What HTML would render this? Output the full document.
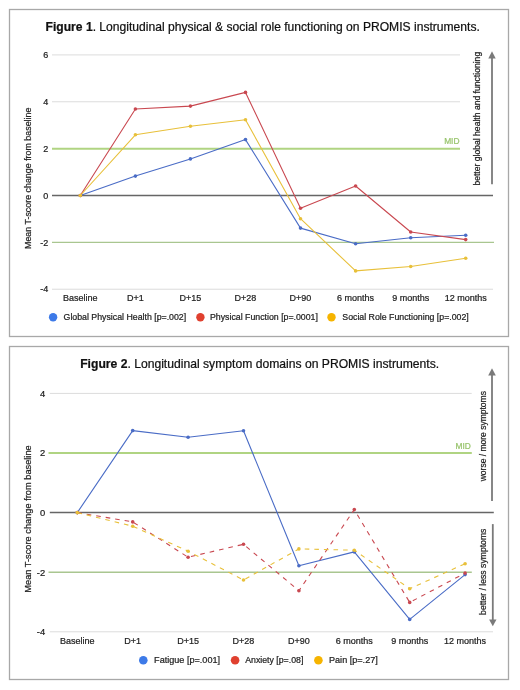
<!DOCTYPE html><html><head><meta charset="utf-8"><style>
html,body{margin:0;padding:0;background:#fff;width:520px;height:690px;overflow:hidden}
svg{display:block;will-change:transform}
text{font-family:"Liberation Sans", sans-serif}
</style></head><body>
<svg width="520" height="690" viewBox="0 0 520 690">
<rect x="9.5" y="9.5" width="499" height="327" fill="none" stroke="#a8a8a8" stroke-width="1.3"/>
<rect x="9.5" y="346.5" width="499" height="333" fill="none" stroke="#a8a8a8" stroke-width="1.3"/>
<text x="45.6" y="30.6" font-size="12.1" fill="#111" stroke="#111" stroke-width="0.22"><tspan font-weight="bold">Figure 1</tspan>. Longitudinal physical &amp; social role functioning on PROMIS instruments.</text>
<line x1="52" x2="460" y1="54.92" y2="54.92" stroke="#dcdcdc" stroke-width="1"/>
<line x1="52" x2="460" y1="101.78" y2="101.78" stroke="#dcdcdc" stroke-width="1"/>
<line x1="52" x2="493" y1="289.22" y2="289.22" stroke="#dcdcdc" stroke-width="1"/>
<line x1="52" x2="460" y1="148.64" y2="148.64" stroke="#b0d482" stroke-width="2"/>
<line x1="52" x2="494" y1="242.36" y2="242.36" stroke="#a9c690" stroke-width="1.3"/>
<line x1="52" x2="493" y1="195.5" y2="195.5" stroke="#666666" stroke-width="1.5"/>
<text x="48.2" y="58.120000000000005" font-size="9" fill="#222222" text-anchor="end" stroke="#222222" stroke-width="0.22">6</text>
<text x="48.2" y="104.98" font-size="9" fill="#222222" text-anchor="end" stroke="#222222" stroke-width="0.22">4</text>
<text x="48.2" y="151.83999999999997" font-size="9" fill="#222222" text-anchor="end" stroke="#222222" stroke-width="0.22">2</text>
<text x="48.2" y="198.7" font-size="9" fill="#222222" text-anchor="end" stroke="#222222" stroke-width="0.22">0</text>
<text x="48.2" y="245.56" font-size="9" fill="#222222" text-anchor="end" stroke="#222222" stroke-width="0.22">-2</text>
<text x="48.2" y="292.42" font-size="9" fill="#222222" text-anchor="end" stroke="#222222" stroke-width="0.22">-4</text>
<text x="459.5" y="144" font-size="8.4" fill="#98c46c" text-anchor="end" stroke="#98c46c" stroke-width="0.22">MID</text>
<text x="80.3" y="301.2" font-size="9" fill="#222222" text-anchor="middle" stroke="#222222" stroke-width="0.22">Baseline</text>
<text x="135.4" y="301.2" font-size="9" fill="#222222" text-anchor="middle" stroke="#222222" stroke-width="0.22">D+1</text>
<text x="190.4" y="301.2" font-size="9" fill="#222222" text-anchor="middle" stroke="#222222" stroke-width="0.22">D+15</text>
<text x="245.5" y="301.2" font-size="9" fill="#222222" text-anchor="middle" stroke="#222222" stroke-width="0.22">D+28</text>
<text x="300.5" y="301.2" font-size="9" fill="#222222" text-anchor="middle" stroke="#222222" stroke-width="0.22">D+90</text>
<text x="355.6" y="301.2" font-size="9" fill="#222222" text-anchor="middle" stroke="#222222" stroke-width="0.22">6 months</text>
<text x="410.7" y="301.2" font-size="9" fill="#222222" text-anchor="middle" stroke="#222222" stroke-width="0.22">9 months</text>
<text x="465.7" y="301.2" font-size="9" fill="#222222" text-anchor="middle" stroke="#222222" stroke-width="0.22">12 months</text>
<text transform="translate(31.4,249) rotate(-90)" font-size="8.9" fill="#222222" stroke="#222222" stroke-width="0.22">Mean T-score change from baseline</text>
<text transform="translate(480.2,185.6) rotate(-90)" font-size="8.6" fill="#222" stroke="#222" stroke-width="0.22">better global health and functioning</text>
<line x1="492" x2="492" y1="184.2" y2="57" stroke="#7a7a7a" stroke-width="1.8"/>
<path d="M492,51.3 L495.7,58.6 L488.3,58.6 Z" fill="#7a7a7a"/>
<polyline points="80.3,195.5 135.4,176.1 190.4,158.9 245.5,139.6 300.5,228.1 355.6,243.8 410.7,237.7 465.7,235.2" fill="none" stroke="#4a6cc6" stroke-width="1.1" stroke-linejoin="round"/><circle cx="80.3" cy="195.5" r="1.8" fill="#4a6cc6"/><circle cx="135.4" cy="176.1" r="1.8" fill="#4a6cc6"/><circle cx="190.4" cy="158.9" r="1.8" fill="#4a6cc6"/><circle cx="245.5" cy="139.6" r="1.8" fill="#4a6cc6"/><circle cx="300.5" cy="228.1" r="1.8" fill="#4a6cc6"/><circle cx="355.6" cy="243.8" r="1.8" fill="#4a6cc6"/><circle cx="410.7" cy="237.7" r="1.8" fill="#4a6cc6"/><circle cx="465.7" cy="235.2" r="1.8" fill="#4a6cc6"/>
<polyline points="80.3,195.5 135.4,109 190.4,106.1 245.5,92.4 300.5,208.3 355.6,186 410.7,232 465.7,239.6" fill="none" stroke="#c94850" stroke-width="1.1" stroke-linejoin="round"/><circle cx="80.3" cy="195.5" r="1.8" fill="#c94850"/><circle cx="135.4" cy="109" r="1.8" fill="#c94850"/><circle cx="190.4" cy="106.1" r="1.8" fill="#c94850"/><circle cx="245.5" cy="92.4" r="1.8" fill="#c94850"/><circle cx="300.5" cy="208.3" r="1.8" fill="#c94850"/><circle cx="355.6" cy="186" r="1.8" fill="#c94850"/><circle cx="410.7" cy="232" r="1.8" fill="#c94850"/><circle cx="465.7" cy="239.6" r="1.8" fill="#c94850"/>
<polyline points="80.3,195.5 135.4,134.8 190.4,126.3 245.5,119.8 300.5,218.7 355.6,270.9 410.7,266.5 465.7,258.3" fill="none" stroke="#e8c03a" stroke-width="1.1" stroke-linejoin="round"/><circle cx="80.3" cy="195.5" r="1.8" fill="#e8c03a"/><circle cx="135.4" cy="134.8" r="1.8" fill="#e8c03a"/><circle cx="190.4" cy="126.3" r="1.8" fill="#e8c03a"/><circle cx="245.5" cy="119.8" r="1.8" fill="#e8c03a"/><circle cx="300.5" cy="218.7" r="1.8" fill="#e8c03a"/><circle cx="355.6" cy="270.9" r="1.8" fill="#e8c03a"/><circle cx="410.7" cy="266.5" r="1.8" fill="#e8c03a"/><circle cx="465.7" cy="258.3" r="1.8" fill="#e8c03a"/>
<circle cx="53.1" cy="317.3" r="4.2" fill="#3d7ae8"/>
<text x="63.6" y="320" font-size="8.78" fill="#222222" stroke="#222222" stroke-width="0.22">Global Physical Health [p=.002]</text>
<circle cx="200.4" cy="317.3" r="4.2" fill="#e0402f"/>
<text x="210" y="320" font-size="8.78" fill="#222222" stroke="#222222" stroke-width="0.22">Physical Function [p=.0001]</text>
<circle cx="331.5" cy="317.3" r="4.2" fill="#f6b400"/>
<text x="342.3" y="320" font-size="8.78" fill="#222222" stroke="#222222" stroke-width="0.22">Social Role Functioning [p=.002]</text>
<text x="80.2" y="367.5" font-size="12.15" fill="#111" stroke="#111" stroke-width="0.22"><tspan font-weight="bold">Figure 2</tspan>. Longitudinal symptom domains on PROMIS instruments.</text>
<line x1="49.8" x2="471.7" y1="393.4" y2="393.4" stroke="#dcdcdc" stroke-width="1"/>
<line x1="49.8" x2="493" y1="631.8" y2="631.8" stroke="#dcdcdc" stroke-width="1"/>
<line x1="48.5" x2="471.8" y1="453.0" y2="453.0" stroke="#b0d482" stroke-width="2"/>
<line x1="48.5" x2="471.8" y1="572.2" y2="572.2" stroke="#a9c690" stroke-width="1.4"/>
<line x1="49.8" x2="493.8" y1="512.6" y2="512.6" stroke="#666666" stroke-width="1.5"/>
<text x="45.2" y="396.79999999999995" font-size="9.4" fill="#222222" text-anchor="end" stroke="#222222" stroke-width="0.22">4</text>
<text x="45.2" y="456.4" font-size="9.4" fill="#222222" text-anchor="end" stroke="#222222" stroke-width="0.22">2</text>
<text x="45.2" y="516.0" font-size="9.4" fill="#222222" text-anchor="end" stroke="#222222" stroke-width="0.22">0</text>
<text x="45.2" y="575.6" font-size="9.4" fill="#222222" text-anchor="end" stroke="#222222" stroke-width="0.22">-2</text>
<text x="45.2" y="635.1999999999999" font-size="9.4" fill="#222222" text-anchor="end" stroke="#222222" stroke-width="0.22">-4</text>
<text x="470.8" y="448.6" font-size="8.4" fill="#98c46c" text-anchor="end" stroke="#98c46c" stroke-width="0.22">MID</text>
<text x="77.3" y="643.7" font-size="9" fill="#222222" text-anchor="middle" stroke="#222222" stroke-width="0.22">Baseline</text>
<text x="132.7" y="643.7" font-size="9" fill="#222222" text-anchor="middle" stroke="#222222" stroke-width="0.22">D+1</text>
<text x="188.1" y="643.7" font-size="9" fill="#222222" text-anchor="middle" stroke="#222222" stroke-width="0.22">D+15</text>
<text x="243.5" y="643.7" font-size="9" fill="#222222" text-anchor="middle" stroke="#222222" stroke-width="0.22">D+28</text>
<text x="298.9" y="643.7" font-size="9" fill="#222222" text-anchor="middle" stroke="#222222" stroke-width="0.22">D+90</text>
<text x="354.3" y="643.7" font-size="9" fill="#222222" text-anchor="middle" stroke="#222222" stroke-width="0.22">6 months</text>
<text x="409.7" y="643.7" font-size="9" fill="#222222" text-anchor="middle" stroke="#222222" stroke-width="0.22">9 months</text>
<text x="465.1" y="643.7" font-size="9" fill="#222222" text-anchor="middle" stroke="#222222" stroke-width="0.22">12 months</text>
<text transform="translate(30.9,592.7) rotate(-90)" font-size="9.25" fill="#222222" stroke="#222222" stroke-width="0.22">Mean T-score change from baseline</text>
<text transform="translate(486,481.3) rotate(-90)" font-size="8.5" fill="#222" stroke="#222" stroke-width="0.22">worse / more symptoms</text>
<text transform="translate(486.3,614.9) rotate(-90)" font-size="8.65" fill="#222" stroke="#222" stroke-width="0.22">better / less symptoms</text>
<line x1="492" x2="492" y1="501" y2="375" stroke="#7a7a7a" stroke-width="1.8"/>
<path d="M492,368.3 L495.8,375.6 L488.2,375.6 Z" fill="#7a7a7a"/>
<line x1="492.8" x2="492.8" y1="524.1" y2="620" stroke="#7a7a7a" stroke-width="1.8"/>
<path d="M492.8,626.2 L496.5,619.4 L489.1,619.4 Z" fill="#7a7a7a"/>
<polyline points="77.3,512.6 132.7,430.6 188.1,437.3 243.5,430.8 298.9,565.7 354.3,551.9 409.7,619.4 465.1,574.6" fill="none" stroke="#4a6cc6" stroke-width="1.1" stroke-linejoin="round"/><circle cx="77.3" cy="512.6" r="1.8" fill="#4a6cc6"/><circle cx="132.7" cy="430.6" r="1.8" fill="#4a6cc6"/><circle cx="188.1" cy="437.3" r="1.8" fill="#4a6cc6"/><circle cx="243.5" cy="430.8" r="1.8" fill="#4a6cc6"/><circle cx="298.9" cy="565.7" r="1.8" fill="#4a6cc6"/><circle cx="354.3" cy="551.9" r="1.8" fill="#4a6cc6"/><circle cx="409.7" cy="619.4" r="1.8" fill="#4a6cc6"/><circle cx="465.1" cy="574.6" r="1.8" fill="#4a6cc6"/>
<polyline points="77.3,512.6 132.7,521.9 188.1,557.2 243.5,544.3 298.9,590.7 354.3,509.6 409.7,602.4 465.1,573.1" fill="none" stroke="#c94850" stroke-width="1.1" stroke-linejoin="round" stroke-dasharray="4.6 5"/><circle cx="77.3" cy="512.6" r="1.8" fill="#c94850"/><circle cx="132.7" cy="521.9" r="1.8" fill="#c94850"/><circle cx="188.1" cy="557.2" r="1.8" fill="#c94850"/><circle cx="243.5" cy="544.3" r="1.8" fill="#c94850"/><circle cx="298.9" cy="590.7" r="1.8" fill="#c94850"/><circle cx="354.3" cy="509.6" r="1.8" fill="#c94850"/><circle cx="409.7" cy="602.4" r="1.8" fill="#c94850"/><circle cx="465.1" cy="573.1" r="1.8" fill="#c94850"/>
<polyline points="77.3,512.6 132.7,526.2 188.1,551.2 243.5,580 298.9,548.9 354.3,550.2 409.7,588.7 465.1,563.7" fill="none" stroke="#e8c03a" stroke-width="1.1" stroke-linejoin="round" stroke-dasharray="4.6 5"/><circle cx="77.3" cy="512.6" r="1.8" fill="#e8c03a"/><circle cx="132.7" cy="526.2" r="1.8" fill="#e8c03a"/><circle cx="188.1" cy="551.2" r="1.8" fill="#e8c03a"/><circle cx="243.5" cy="580" r="1.8" fill="#e8c03a"/><circle cx="298.9" cy="548.9" r="1.8" fill="#e8c03a"/><circle cx="354.3" cy="550.2" r="1.8" fill="#e8c03a"/><circle cx="409.7" cy="588.7" r="1.8" fill="#e8c03a"/><circle cx="465.1" cy="563.7" r="1.8" fill="#e8c03a"/>
<circle cx="143.3" cy="660.3" r="4.3" fill="#3d7ae8"/>
<text x="154.1" y="662.8" font-size="9.1" fill="#222222" stroke="#222222" stroke-width="0.22">Fatigue [p=.001]</text>
<circle cx="235.1" cy="660.3" r="4.3" fill="#e0402f"/>
<text x="245.2" y="662.8" font-size="8.75" fill="#222222" stroke="#222222" stroke-width="0.22">Anxiety [p=.08]</text>
<circle cx="318.4" cy="660.3" r="4.3" fill="#f6b400"/>
<text x="329" y="662.8" font-size="9.1" fill="#222222" stroke="#222222" stroke-width="0.22">Pain [p=.27]</text>
</svg></body></html>
